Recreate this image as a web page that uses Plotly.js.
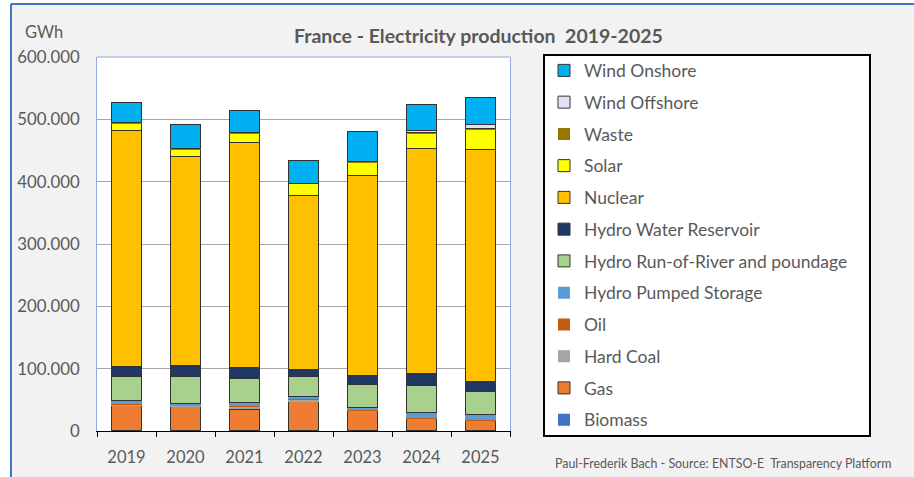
<!DOCTYPE html>
<html>
<head>
<meta charset="utf-8">
<script src="https://cdn.plot.ly/plotly-3.0.1.min.js"></script>
<style>
html,body{margin:0;padding:0;background:#ffffff;}
#chart{width:914px;height:477px;}
</style>
</head>
<body>
<div id="chart"></div>
<script>
// ---- data (GWh) ----
const years = ['2019','2020','2021','2022','2023','2024','2025'];
const biomass   = [500, 500, 500, 500, 500, 500, 500];
const gas       = [41200, 38500, 34800, 47600, 32100, 18800, 16600];
const hardCoal  = [1600, 1200, 3500, 2400, 900, 400, 300];
const oil       = [800, 600, 1000, 900, 600, 500, 500];
const pumped    = [4500, 3600, 5600, 3600, 3900, 9200, 8700];
const runRiver  = [39600, 42700, 39600, 33200, 36900, 43900, 37400];
const reservoir = [15000, 17200, 17200, 10800, 14500, 19300, 15500];
const nuclear   = [379200, 335300, 360300, 279200, 320800, 361400, 371800];
const solar     = [11300, 12400, 15100, 18100, 20900, 23600, 32000];
const waste     = [900, 800, 800, 800, 1000, 800, 1800];
const offshore  = [0, 0, 0, 0, 1000, 3400, 7000];
const onshore   = [33200, 39300, 35000, 36600, 47100, 42800, 42400];

const seriesNames = ['Biomass','Gas','Hard Coal','Oil','Hydro Pumped Storage',
  'Hydro Run-of-River and poundage','Hydro Water Reservoir','Nuclear','Solar',
  'Waste','Wind Offshore','Wind Onshore'];
const seriesValues = [biomass, gas, hardCoal, oil, pumped, runRiver, reservoir,
  nuclear, solar, waste, offshore, onshore];
const seriesColors = ['#4472C4','#ED7D31','#A5A5A5','#C55A11','#5B9BD5',
  '#A9D18E','#203864','#FFC000','#FFFF00','#9C7400','#E2E2F6','#00B0F0'];
const outlined = [false,true,false,false,false,true,true,true,true,false,true,true];

// ---- pixel helpers ----
const W = 914, H = 477;
const L = 97, R = 510, T = 57, B = 431;
const px2x = p => (p - L) / (R - L);
const px2y = p => (B - p) / (B - T);

const FONT = 'Lato, "Open Sans", sans-serif';
const GREY = '#595959';

const traces = seriesNames.map((n, i) => ({
  type: 'bar',
  name: n,
  x: years,
  y: seriesValues[i],
  legendgroup: 'g' + i,
  legendrank: 1000 - i,
  marker: {
    color: seriesColors[i],
    line: {color: outlined[i] ? '#333333' : seriesColors[i], width: outlined[i] ? 1 : 0}
  },
  hoverinfo: 'x+y+name'
}));

const layout = {
  width: W, height: H,
  margin: {l: L, r: W - R, t: T, b: H - B, autoexpand: false},
  paper_bgcolor: '#F2F2F2',
  plot_bgcolor: '#FFFFFF',
  barmode: 'stack',
  bargap: 0.49,
  separators: ',.',
  font: {family: FONT, size: 16, color: GREY},
  showlegend: true,
  legend: {
    x: px2x(544), xanchor: 'left',
    y: px2y(52.5), yanchor: 'top',
    maxheight: 470,
    bgcolor: 'rgba(0,0,0,0)', borderwidth: 0,
    font: {family: FONT, size: 17.5, color: GREY},
    traceorder: 'grouped',
    tracegroupgap: 6,
    itemclick: false, itemdoubleclick: false
  },
  xaxis: {
    type: 'category',
    showline: true, linecolor: '#000000', linewidth: 1,
    ticks: 'outside', tickson: 'boundaries', ticklen: 5, tickcolor: '#000000',
    showgrid: false,
    tickfont: {family: FONT, size: 16.5, color: GREY},
    ticklabelstandoff: 11,
    fixedrange: true
  },
  yaxis: {
    range: [0, 600000], dtick: 100000, tick0: 0,
    tickformat: ',d',
    showgrid: true, gridcolor: '#A6A6A6', gridwidth: 1,
    zeroline: false,
    showline: true, linecolor: '#8FAADC', linewidth: 1, mirror: true,
    ticks: '',
    ticklabelstandoff: 13,
    tickfont: {family: FONT, size: 16.8, color: GREY},
    fixedrange: true
  },
  shapes: [
    {type: 'line', xref: 'paper', yref: 'paper', x0: 0, x1: 1, y0: 1, y1: 1,
     line: {color: '#8FAADC', width: 1}, layer: 'above'},
    {type: 'rect', xref: 'paper', yref: 'paper',
     x0: px2x(544), x1: px2x(870), y0: px2y(436), y1: px2y(55),
     line: {color: '#000000', width: 2}, fillcolor: '#FFFFFF', layer: 'above'},
    {type: 'rect', xref: 'paper', yref: 'paper',
     x0: px2x(0), x1: px2x(11), y0: px2y(H), y1: px2y(0),
     line: {width: 0}, fillcolor: '#FFFFFF', layer: 'above'},
    {type: 'rect', xref: 'paper', yref: 'paper',
     x0: px2x(0), x1: px2x(W), y0: px2y(4), y1: px2y(0),
     line: {width: 0}, fillcolor: '#FFFFFF', layer: 'above'},
    {type: 'line', xref: 'paper', yref: 'paper',
     x0: px2x(11), x1: px2x(11), y0: px2y(H), y1: px2y(4),
     line: {color: '#4472C4', width: 2}, layer: 'above'},
    {type: 'line', xref: 'paper', yref: 'paper',
     x0: px2x(11), x1: px2x(W), y0: px2y(4), y1: px2y(4),
     line: {color: '#4472C4', width: 2}, layer: 'above'}
  ],
  annotations: [
    {text: '<b>France - Electricity production  2019-2025</b>', xref: 'paper', yref: 'paper',
     x: px2x(478), y: px2y(35), xanchor: 'center', yanchor: 'middle', showarrow: false,
     font: {family: FONT, size: 19.5, color: GREY}},
    {text: 'GWh', xref: 'paper', yref: 'paper',
     x: px2x(44), y: px2y(32), xanchor: 'center', yanchor: 'middle', showarrow: false,
     font: {family: FONT, size: 16.5, color: GREY}},
    {text: 'Paul-Frederik Bach - Source: ENTSO-E  Transparency Platform', xref: 'paper', yref: 'paper',
     x: px2x(553), y: px2y(464), xanchor: 'left', yanchor: 'middle', showarrow: false,
     font: {family: FONT, size: 12.4, color: GREY}}
  ]
};

Plotly.newPlot('chart', traces, layout, {displayModeBar: false});
</script>
</body>
</html>
